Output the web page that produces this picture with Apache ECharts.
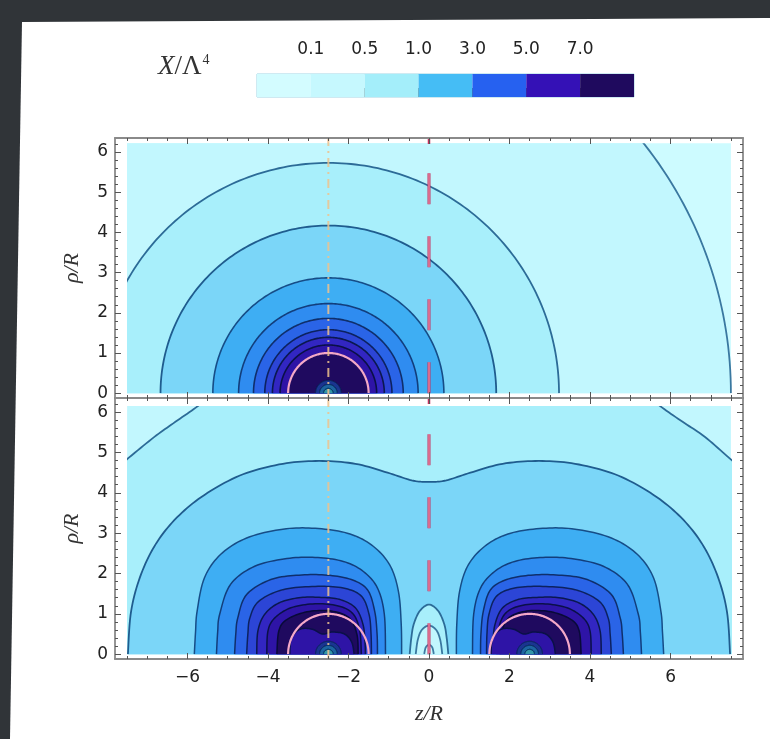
<!DOCTYPE html>
<html><head><meta charset="utf-8">
<script src="https://cdn.jsdelivr.net/npm/echarts@6/dist/echarts.min.js"></script>
<style>
html,body{margin:0;padding:0;width:770px;height:739px;overflow:hidden;background:#303438;}
#slide{position:absolute;left:0;top:0;width:770px;height:739px;background:#fff;clip-path:polygon(22px 22px,770px 18px,770px 739px,10px 739px);}
#chart{position:absolute;left:0;top:0;width:770px;height:739px;}
</style></head><body>
<div id="slide"></div><div id="chart"></div>
<script>
// ---------- data ----------
const colorbarLabels = ['0.1', '0.5', '1.0', '3.0', '5.0', '7.0'];
const xMajorTicks = [-6, -4, -2, 0, 2, 4, 6];
const yMajorTicks = [0, 1, 2, 3, 4, 5, 6];
const topSources = [-2.5];
const bottomSources = [-2.5, 2.5];
const starRadius = 1.0;
const guideZ = [-2.5, 0];
const redDashTop = 5.47;
// top panel: concentric contour radii around the single source, and the band index inside each
const topRadii = [10.0, 5.73, 4.17, 2.87, 2.23, 1.86, 1.58, 1.39, 1.2, 1.0];
const topLevels = [1, 2, 3, 4, 5, 6, 7, 8, 9, 10];
const coreRadii = [0.32, 0.22, 0.12];
// bottom panel: traced contours [z, rho]
const contourA = [[-8.3,4.15],[-7.53,4.81],[-6.83,5.38],[-6.3,5.76],[-5.73,6.16],[-5.2,6.6],[5.2,6.6],[5.73,6.16],[6.3,5.76],[6.85,5.39],[7.52,4.81],[8.3,4.15]];
const contourB = [[-7.48,0],[-7.4,1.07],[-7.15,1.99],[-6.75,2.79],[-6.2,3.45],[-5.5,4.0],[-4.62,4.46],[-3.63,4.72],[-2.73,4.79],[-1.83,4.72],[-1.03,4.5],[-0.43,4.31],[0,4.27],[0.43,4.31],[1.03,4.5],[1.83,4.72],[2.73,4.79],[3.63,4.72],[4.62,4.46],[5.5,4.0],[6.2,3.45],[6.75,2.79],[7.15,1.99],[7.4,1.07],[7.48,0]];
const contourCL = [[-5.83,0],[-5.8,0.55],[-5.76,1.07],[-5.58,1.89],[-5.18,2.47],[-4.53,2.88],[-3.63,3.1],[-2.83,3.12],[-2.03,3.0],[-1.43,2.71],[-0.98,2.22],[-0.76,1.56],[-0.69,0.74],[-0.68,0]];
const contourCR = [[0.68,0],[0.69,0.74],[0.76,1.56],[0.98,2.22],[1.43,2.71],[2.03,3.0],[2.83,3.12],[3.63,3.1],[4.53,2.88],[5.18,2.47],[5.58,1.89],[5.76,1.07],[5.8,0.55],[5.83,0]];
const contourDL = [[-5.28,0],[-5.25,0.55],[-5.2,0.99],[-4.93,1.73],[-4.33,2.18],[-3.53,2.37],[-2.83,2.4],[-2.13,2.3],[-1.63,2.05],[-1.28,1.64],[-1.11,0.99],[-1.08,0]];
const contourDR = [[1.08,0],[1.11,0.99],[1.28,1.64],[1.63,2.05],[2.13,2.3],[2.83,2.4],[3.53,2.37],[4.33,2.18],[4.93,1.73],[5.2,0.99],[5.25,0.55],[5.28,0]];
const contourEL = [[-4.83,0],[-4.8,0.5],[-4.75,0.9],[-4.53,1.48],[-3.93,1.85],[-3.23,1.96],[-2.53,1.96],[-1.93,1.85],[-1.53,1.6],[-1.35,1.07],[-1.29,0.5],[-1.28,0]];
const contourER = [[1.28,0],[1.29,0.5],[1.35,1.07],[1.53,1.6],[1.93,1.85],[2.53,1.96],[3.23,1.96],[3.93,1.85],[4.53,1.48],[4.75,0.9],[4.8,0.5],[4.83,0]];
const contourFL = [[-4.53,0],[-4.5,0.5],[-4.45,0.9],[-4.23,1.31],[-3.63,1.6],[-2.83,1.68],[-2.13,1.64],[-1.68,1.44],[-1.49,0.99],[-1.44,0.5],[-1.43,0]];
const contourFR = [[1.43,0],[1.44,0.5],[1.49,0.99],[1.68,1.44],[2.13,1.64],[2.83,1.68],[3.63,1.6],[4.23,1.31],[4.45,0.9],[4.5,0.5],[4.53,0]];
const contourGL = [[-4.28,0],[-4.25,0.58],[-4.08,0.99],[-3.73,1.27],[-3.23,1.4],[-2.73,1.41],[-2.23,1.36],[-1.83,1.15],[-1.64,0.74],[-1.59,0.3],[-1.58,0]];
const contourGR = [[1.58,0],[1.59,0.3],[1.64,0.74],[1.83,1.15],[2.23,1.36],[2.73,1.41],[3.23,1.4],[3.73,1.27],[4.08,0.99],[4.25,0.58],[4.28,0]];
const contourHL = [[-4.03,0],[-4.0,0.58],[-3.83,0.9],[-3.43,1.15],[-2.83,1.25],[-2.23,1.19],[-1.88,0.99],[-1.72,0.58],[-1.68,0]];
const contourHR = [[1.68,0],[1.72,0.58],[1.88,0.99],[2.23,1.19],[2.83,1.25],[3.43,1.15],[3.83,0.9],[4.0,0.58],[4.03,0]];
const contourKL = [[-3.78,0],[-3.73,0.58],[-3.53,0.86],[-3.03,1.05],[-2.43,1.07],[-1.98,0.9],[-1.79,0.49],[-1.76,0]];
const contourKR = [[1.76,0],[1.79,0.49],[1.98,0.9],[2.43,1.07],[3.03,1.05],[3.53,0.86],[3.73,0.58],[3.78,0]];
// lighter swirl inside each star (both on the left side of the star, as in the picture)
const swirlL = [[-3.46,0],[-3.42,0.4],[-3.2,0.62],[-2.9,0.62],[-2.65,0.5],[-2.4,0.55],[-2.1,0.5],[-1.92,0.3],[-1.86,0]];
const swirlR = [[1.54,0],[1.58,0.4],[1.8,0.62],[2.1,0.62],[2.35,0.5],[2.6,0.55],[2.9,0.5],[3.08,0.3],[3.14,0]];
const archOuter = [[-0.48,0],[-0.44,0.4],[-0.38,0.74],[-0.23,1.07],[0,1.23],[0.23,1.07],[0.38,0.74],[0.44,0.4],[0.48,0]];
const archMid = [[-0.33,0],[-0.28,0.35],[-0.18,0.6],[0,0.71],[0.18,0.6],[0.28,0.35],[0.33,0]];
const archInner = [[-0.12,0],[-0.08,0.17],[0,0.23],[0.08,0.17],[0.12,0]];
const bottomContours = [contourA, contourB, contourCL, contourCR, contourDL, contourDR, contourEL, contourER,
  contourFL, contourFR, contourGL, contourGR, contourHL, contourHR, contourKL, contourKR, swirlL, swirlR, archOuter, archMid, archInner];
const bottomLevels = [2, 3, 4, 4, 5, 5, 6, 6, 7, 7, 8, 8, 9, 9, 10, 10, 9, 9, 2, 1, 0];

// ---------- styles ----------
const bandColors = ['#cdfbff','#c2f7fe','#a8effb','#7bd6f8','#3eaef3','#2f8cf0','#2a64e7','#2c45d6','#3226c2','#2e14a6','#1f0a5f'];
const lineColors = ['#3d7ba2','#3a78a0','#2c6b97','#1f5c8e','#164d87','#123e7c','#0f2f6c','#0c2260','#0a1850','#0a1048','#080a38'];
const colorbarColors = ['#d3fcff','#c6f8fe','#a4eefa','#45bdf5','#2661f0','#3411b6','#1f0a5e'];
const coreColors = ['#1a3590','#1d64a0','#3296a8'];
const frameColor = '#8a8a8a', tickColor = '#555';
const FX = [-7.8, 7.8], FY = [-0.12, 6.35];

const xMinorTicks = []; for (let i = -15; i <= 15; i++) xMinorTicks.push(i / 2);
const yMinorTicks = []; for (let i = 0; i <= 31; i++) yMinorTicks.push(Math.round(i * 2) / 10);

function fmtMinus(v) { return v < 0 ? '\u2212' + Math.abs(v) : String(v); }

function spline(p, segs) {
  if (p.length < 3) return p;
  const out = [];
  for (let i = 0; i < p.length - 1; i++) {
    const p0 = p[Math.max(i - 1, 0)], p1 = p[i], p2 = p[i + 1], p3 = p[Math.min(i + 2, p.length - 1)];
    for (let t = 0; t < segs; t++) {
      const s = t / segs, s2 = s * s, s3 = s2 * s;
      out.push([0, 1].map(d => 0.5 * (2 * p1[d] + (-p0[d] + p2[d]) * s + (2 * p0[d] - 5 * p1[d] + 4 * p2[d] - p3[d]) * s2 + (-p0[d] + 3 * p1[d] - 3 * p2[d] + p3[d]) * s3)));
    }
  }
  out.push(p[p.length - 1]);
  return out;
}

function ringPts(api, cz, r) {
  const pts = [];
  for (let k = 0; k <= 160; k++) { const t = Math.PI * k / 160; pts.push(api.coord([cz + r * Math.cos(t), r * Math.sin(t)])); }
  return pts;
}
function filledCurve(pts, fill, stroke, lw, yb) {
  const poly = pts.concat([[pts[pts.length - 1][0], yb], [pts[0][0], yb]]);
  return {type: 'group', children: [
    {type: 'polygon', shape: {points: poly}, style: {fill: fill, stroke: 'none'}},
    {type: 'polyline', shape: {points: pts}, style: {fill: 'none', stroke: stroke, lineWidth: lw}}
  ]};
}

// ---------- axes ----------
const serif = 'Liberation Serif';
function frameAxes(gi, isX, showLabels, name) {
  const base = {gridIndex: gi, type: 'value', min: isX ? FX[0] : FY[0], max: isX ? FX[1] : FY[1], splitLine: {show: false}, z: 6};
  const major = isX ? xMajorTicks : yMajorTicks, minor = isX ? xMinorTicks : yMinorTicks;
  const pos = isX ? ['bottom', 'top'] : ['left', 'right'];
  const res = [];
  pos.forEach((p, k) => {
    res.push(Object.assign({}, base, {
      position: p,
      axisLine: {show: true, onZero: false, lineStyle: {color: frameColor, width: 1.8}},
      axisTick: {show: true, inside: true, length: 6, customValues: major, lineStyle: {color: tickColor, width: 1}},
      axisLabel: {show: showLabels && k === 0, customValues: major, formatter: v => fmtMinus(v), margin: isX ? 10 : 7,
        fontSize: 17, color: '#222', fontFamily: 'DejaVu Sans'},
      name: (k === 0 && name) ? name : '', nameLocation: 'middle', nameGap: isX ? 44 : 32, nameRotate: isX ? 0 : 90,
      nameTextStyle: {fontFamily: serif, fontStyle: 'italic', fontSize: 22, color: '#333'}
    }));
    res.push(Object.assign({}, base, {
      position: p,
      axisLine: {show: false, onZero: false},
      axisTick: {show: true, inside: true, length: 3, customValues: minor, lineStyle: {color: tickColor, width: 1}},
      axisLabel: {show: false}
    }));
  });
  return res;
}
// axis index layout: 0-3 top frame, 4-7 bottom frame, 8 top data, 9 bottom data, 10 colorbar
const xAxes = [].concat(
  frameAxes(0, true, false, ''), frameAxes(1, true, true, 'z/R'),
  [{gridIndex: 2, type: 'value', min: -7.5, max: 7.5, show: false},
   {gridIndex: 3, type: 'value', min: -7.5, max: 7.5, show: false},
   {gridIndex: 4, type: 'value', min: 0, max: 7, position: 'top',
    axisLine: {show: false}, splitLine: {show: false},
    axisTick: {show: true, length: 9, customValues: [1, 2, 3, 4, 5, 6], lineStyle: {color: '#555'}},
    axisLabel: {customValues: [1, 2, 3, 4, 5, 6], formatter: v => colorbarLabels[v - 1] || '', margin: 16,
      fontSize: 17, color: '#222', fontFamily: 'DejaVu Sans'}}]);
const yAxes = [].concat(
  frameAxes(0, false, true, 'ρ/R'), frameAxes(1, false, true, 'ρ/R'),
  [{gridIndex: 2, type: 'value', min: 0, max: 6.22, show: false},
   {gridIndex: 3, type: 'value', min: 0, max: 6.15, show: false},
   {gridIndex: 4, type: 'value', min: 0, max: 1, show: false}]);

const grids = [
  {left: 115, top: 138, width: 628, height: 260, show: false, outerBoundsMode: 'none'},
  {left: 115, top: 398, width: 628, height: 261, show: false, outerBoundsMode: 'none'},
  {left: 127.1, top: 143.2, width: 603.8, height: 250.0, show: true, backgroundColor: bandColors[0], borderWidth: 0, outerBoundsMode: 'none'},
  {left: 127.1, top: 406.1, width: 603.8, height: 248.1, show: true, backgroundColor: bandColors[1], borderWidth: 0, outerBoundsMode: 'none'},
  {left: 257, top: 74, width: 377, height: 23, show: true, borderColor: '#9fd4e4', borderWidth: 1, outerBoundsMode: 'none'}
];

// ---------- series ----------
function coreAndStar(api, cz) {
  const yb = api.coord([0, 0])[1] + 20;
  const kids = coreRadii.map((r, i) => filledCurve(ringPts(api, cz, r), coreColors[i], '#0a2a55', 1, yb));
  kids.push({type: 'polyline', shape: {points: ringPts(api, cz, starRadius)}, style: {fill: 'none', stroke: '#f4a8c8', lineWidth: 2.2}});
  return {type: 'group', children: kids};
}
const series = [
  {type: 'custom', xAxisIndex: 8, yAxisIndex: 8, clip: true, silent: true,
   data: topRadii.map((r, i) => [i, 0]),
   renderItem: (params, api) => {
     const i = params.dataIndex, lv = topLevels[i];
     const yb = api.coord([0, 0])[1] + 20;
     return filledCurve(ringPts(api, topSources[0], topRadii[i]), bandColors[lv], lineColors[lv], lv < 4 ? 1.8 : 1.6, yb);
   }},
  {type: 'custom', xAxisIndex: 8, yAxisIndex: 8, clip: true, silent: true,
   data: topSources.map((z, i) => [i, 0]),
   renderItem: (params, api) => coreAndStar(api, topSources[params.dataIndex])},
  {type: 'custom', xAxisIndex: 9, yAxisIndex: 9, clip: true, silent: true,
   data: bottomContours.map((c, i) => [i, 0]),
   renderItem: (params, api) => {
     const i = params.dataIndex, lv = bottomLevels[i];
     const pts = spline(bottomContours[i].map(p => api.coord(p)), 10);
     const yb = api.coord([0, 0])[1] + 20;
     return filledCurve(pts, bandColors[lv], lineColors[lv], lv < 4 ? 1.8 : 1.5, yb);
   }},
  {type: 'custom', xAxisIndex: 9, yAxisIndex: 9, clip: true, silent: true,
   data: bottomSources.map((z, i) => [i, 0]),
   renderItem: (params, api) => coreAndStar(api, bottomSources[params.dataIndex])},
  {type: 'custom', xAxisIndex: 10, yAxisIndex: 10, silent: true,
   data: colorbarColors.map((c, i) => [i, 0]),
   renderItem: (params, api) => {
     const i = params.dataIndex, a = api.coord([i, 1]), b = api.coord([i + 1, 0]);
     return {type: 'rect', shape: {x: a[0], y: a[1], width: b[0] - a[0], height: b[1] - a[1]}, style: {fill: colorbarColors[i]}};
   }}
];
[0, 1].forEach(g => {
  const xi = g * 4, yi = g * 4;
  series.push({type: 'line', xAxisIndex: xi, yAxisIndex: yi, silent: true, symbol: 'none', z: 4,
    data: [[guideZ[0], FY[0]], [guideZ[0], FY[1]]],
    lineStyle: {color: '#eec28c', width: 2, type: [9, 5, 2, 5], opacity: 0.85}});
  series.push({type: 'line', xAxisIndex: xi, yAxisIndex: yi, silent: true, symbol: 'none', z: 4,
    data: [[guideZ[1], 0], [guideZ[1], redDashTop]],
    lineStyle: {color: '#c2305e', width: 3, type: [31, 32]}});
  series.push({type: 'line', xAxisIndex: xi, yAxisIndex: yi, silent: true, symbol: 'none', z: 4,
    data: [[guideZ[1], 0], [guideZ[1], redDashTop]],
    lineStyle: {color: '#f2a6bd', width: 1, type: [31, 32]}});
  series.push({type: 'line', xAxisIndex: xi, yAxisIndex: yi, silent: true, symbol: 'none', z: 4,
    data: [[guideZ[1], 6.2], [guideZ[1], FY[1]]],
    lineStyle: {color: '#c2305e', width: 2.5}});
});

const chart = echarts.init(document.getElementById('chart'), null, {renderer: 'canvas'});
chart.setOption({
  animation: false,
  backgroundColor: 'transparent',
  grid: grids,
  xAxis: xAxes,
  yAxis: yAxes,
  graphic: [{
    type: 'text', left: 158, top: 53, silent: true,
    style: {text: '{a|X}{b|/Λ}{c|4}', rich: {
      a: {fontFamily: serif, fontStyle: 'italic', fontSize: 27, fill: '#333'},
      b: {fontFamily: serif, fontSize: 27, fill: '#333'},
      c: {fontFamily: serif, fontSize: 14, fill: '#333', verticalAlign: 'top', padding: [0, 0, 14, 1]}
    }}
  }],
  series: series
});
</script></body></html>
